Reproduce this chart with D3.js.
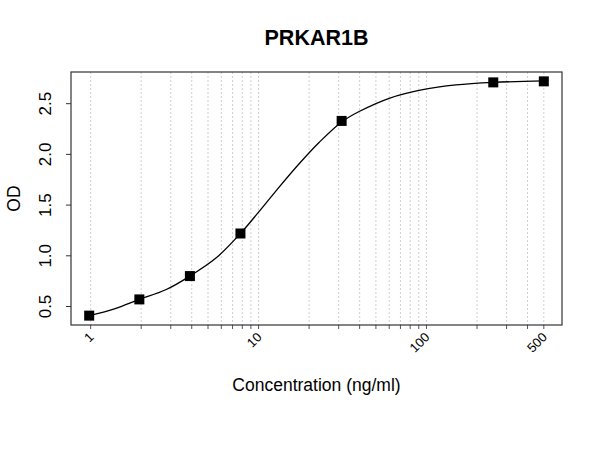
<!DOCTYPE html>
<html>
<head>
<meta charset="utf-8">
<script src="https://cdn.jsdelivr.net/npm/d3@7"></script>
<style>
  body { margin: 0; background: #fff; }
  text { font-family: "Liberation Sans", Arial, sans-serif; fill: #000; }
</style>
</head>
<body>
<div id="chart"></div>
<script>
// standard points (ng/ml vs OD)
const conc = [0.98, 1.95, 3.9, 7.8, 31.25, 250, 500];
const od = [0.41, 0.57, 0.80, 1.22, 2.33, 2.71, 2.72];

// fitted curve
const curveConc = [0.98, 1.4, 1.95, 2.8, 3.9, 5.6, 7.8, 10, 13.3, 17.5, 23, 31.25, 40, 60, 95, 150, 250, 500];
const curveOD = [0.41, 0.48, 0.57, 0.665, 0.80, 0.98, 1.22, 1.43, 1.68, 1.91, 2.12, 2.32, 2.425, 2.553, 2.638, 2.685, 2.71, 2.725];

const gridTicks = [1, 2, 3, 4, 5, 6, 7, 8, 9, 10, 20, 30, 40, 50, 60, 70, 80, 90, 100, 200, 300, 400, 500];
const xLabels = [1, 10, 100, 500];
const yTicks = [0.5, 1.0, 1.5, 2.0, 2.5];

const width = 600, height = 450;
const margin = {top: 72, right: 38, bottom: 125, left: 71};

const svg = d3.select("#chart").append("svg")
  .attr("width", width)
  .attr("height", height);

// R style 4% padding on both axes
const lx = d3.extent(conc, d => Math.log10(d));
const padX = (lx[1] - lx[0]) * 0.04;
const x = d3.scaleLog()
  .domain([Math.pow(10, lx[0] - padX), Math.pow(10, lx[1] + padX)])
  .range([margin.left, width - margin.right]);

const ey = d3.extent(od);
const padY = (ey[1] - ey[0]) * 0.04;
const y = d3.scaleLinear()
  .domain([ey[0] - padY, ey[1] + padY])
  .range([height - margin.bottom, margin.top]);

const x0 = margin.left, x1 = width - margin.right;
const y0 = height - margin.bottom, y1 = margin.top;

// vertical dotted grid
svg.append("g")
  .selectAll("line")
  .data(gridTicks)
  .join("line")
  .attr("x1", d => x(d)).attr("x2", d => x(d))
  .attr("y1", y1).attr("y2", y0)
  .attr("stroke", "#cfcfcf")
  .attr("stroke-width", 1)
  .attr("stroke-dasharray", "2,2");

// x axis ticks (every grid line) with rotated labels at a few
const xAxis = svg.append("g").attr("transform", `translate(0,${y0})`);
xAxis.selectAll("line")
  .data(gridTicks)
  .join("line")
  .attr("x1", d => x(d)).attr("x2", d => x(d))
  .attr("y1", 0).attr("y2", 4)
  .attr("stroke", "#555");
xAxis.selectAll("text")
  .data(xLabels)
  .join("text")
  .attr("transform", d => `translate(${x(d) + 4},${13}) rotate(-45)`)
  .attr("text-anchor", "end")
  .attr("font-size", 13)
  .text(d => d);

// y axis
const yAxis = svg.append("g").attr("transform", `translate(${x0},0)`);
yAxis.selectAll("line")
  .data(yTicks)
  .join("line")
  .attr("x1", -5).attr("x2", 0)
  .attr("y1", d => y(d)).attr("y2", d => y(d))
  .attr("stroke", "#333");
yAxis.selectAll("text")
  .data(yTicks)
  .join("text")
  .attr("transform", d => `translate(-20,${y(d)}) rotate(-90)`)
  .attr("text-anchor", "middle")
  .attr("font-size", 17)
  .text(d => d3.format(".1f")(d));

// curve
const line = d3.line()
  .x((d, i) => x(curveConc[i]))
  .y(d => y(d))
  .curve(d3.curveCatmullRom.alpha(0.5));
svg.append("path")
  .datum(curveOD)
  .attr("d", line)
  .attr("fill", "none")
  .attr("stroke", "#000")
  .attr("stroke-width", 1.3);

// points
const s = 10;
svg.append("g")
  .selectAll("rect")
  .data(od)
  .join("rect")
  .attr("x", (d, i) => x(conc[i]) - s / 2)
  .attr("y", d => y(d) - s / 2)
  .attr("width", s).attr("height", s)
  .attr("fill", "#000");

// frame
svg.append("rect")
  .attr("x", x0).attr("y", y1)
  .attr("width", x1 - x0).attr("height", y0 - y1)
  .attr("fill", "none")
  .attr("stroke", "#333")
  .attr("stroke-width", 1.2);

// titles
svg.append("text")
  .attr("x", (x0 + x1) / 2).attr("y", 44.5)
  .attr("text-anchor", "middle")
  .attr("font-size", 21.5)
  .attr("font-weight", "bold")
  .text("PRKAR1B");

svg.append("text")
  .attr("x", (x0 + x1) / 2).attr("y", 391)
  .attr("text-anchor", "middle")
  .attr("font-size", 17.5)
  .text("Concentration (ng/ml)");

svg.append("text")
  .attr("transform", `translate(20,${(y0 + y1) / 2}) rotate(-90)`)
  .attr("text-anchor", "middle")
  .attr("font-size", 17.5)
  .text("OD");
</script>
</body>
</html>
